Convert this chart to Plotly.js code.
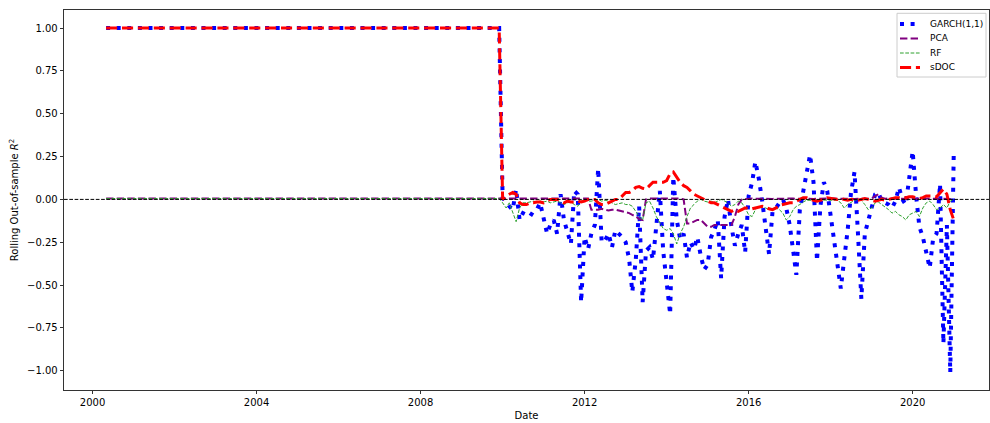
<!DOCTYPE html>
<html>
<head>
<meta charset="utf-8">
<script src="https://cdn.plot.ly/plotly-3.0.1.min.js"></script>
<style>html,body{margin:0;padding:0;background:#fff;}#chart{width:990px;height:423px;}</style>
</head>
<body>
<div id="chart"></div>
<script>
// Dates: constant segment (May 2000 .. Dec 2009) followed by monthly data from Jan 2010
const dates = ["2000-05-01","2009-12-01",
"2010-01","2010-02","2010-03","2010-04","2010-05","2010-06","2010-07","2010-08","2010-09","2010-10","2010-11","2010-12",
"2011-01","2011-02","2011-03","2011-04","2011-05","2011-06","2011-07","2011-08","2011-09","2011-10","2011-11","2011-12",
"2012-01","2012-02","2012-03","2012-04","2012-05","2012-06","2012-07","2012-08","2012-09","2012-10","2012-11","2012-12",
"2013-01","2013-02","2013-03","2013-04","2013-05","2013-06","2013-07","2013-08","2013-09","2013-10","2013-11","2013-12",
"2014-01","2014-02","2014-03","2014-04","2014-05","2014-06","2014-07","2014-08","2014-09","2014-10","2014-11","2014-12",
"2015-01","2015-02","2015-03","2015-04","2015-05","2015-06","2015-07","2015-08","2015-09","2015-10","2015-11","2015-12",
"2016-01","2016-02","2016-03","2016-04","2016-05","2016-06","2016-07","2016-08","2016-09","2016-10","2016-11","2016-12",
"2017-01","2017-02","2017-03","2017-04","2017-05","2017-06","2017-07","2017-08","2017-09","2017-10","2017-11","2017-12",
"2018-01","2018-02","2018-03","2018-04","2018-05","2018-06","2018-07","2018-08","2018-09","2018-10","2018-11","2018-12",
"2019-01","2019-02","2019-03","2019-04","2019-05","2019-06","2019-07","2019-08","2019-09","2019-10","2019-11","2019-12",
"2020-01","2020-02","2020-03","2020-04","2020-05","2020-06","2020-07","2020-08","2020-09","2020-10","2020-11","2020-12",
"2021-01"];

const garch = [1.0, 1.0,
 0.01,-0.02,-0.04,-0.06,0.06,-0.12,-0.08,-0.09,-0.10,-0.07,-0.06,-0.02,
 -0.10,-0.20,-0.15,-0.12,-0.20,0.03,-0.12,-0.20,-0.26,0.05,0.03,-0.60,
 -0.22,-0.29,-0.20,-0.15,0.18,-0.25,-0.24,-0.20,-0.28,-0.18,-0.20,-0.22,
 -0.25,-0.35,-0.54,-0.35,-0.04,-0.60,-0.30,-0.28,-0.35,-0.12,0.05,-0.30,
 -0.50,-0.67,0.13,-0.12,-0.23,-0.20,-0.34,-0.25,-0.29,-0.22,-0.33,-0.41,
 -0.38,-0.22,-0.18,-0.12,-0.46,-0.10,0.00,-0.16,-0.27,-0.20,-0.15,-0.31,
 0.02,0.10,0.22,0.12,-0.01,-0.15,-0.32,-0.07,-0.05,-0.02,0.00,-0.05,
 -0.15,-0.30,-0.44,-0.06,0.05,0.14,0.26,0.10,-0.36,-0.04,0.10,0.05,
 -0.10,-0.25,-0.40,-0.52,-0.35,-0.18,0.04,0.16,-0.20,-0.58,-0.20,-0.12,
 -0.06,0.03,0.04,-0.01,-0.02,-0.03,-0.05,-0.01,0.07,0.00,-0.03,0.13,
 0.28,0.02,-0.16,-0.22,-0.30,-0.40,-0.23,-0.20,0.09,-0.84,-0.15,-1.01,
 0.27];

const pca = [0.005, 0.005,
 0.005,0.004,0.005,0.005,0.004,0.005,0.005,0.004,0.005,0.005,0.004,0.005,
 0.005,0.004,0.005,0.005,0.004,0.005,0.005,0.004,0.005,0.005,0.004,0.005,
 0.004,0.005,-0.06,-0.06,-0.06,-0.055,-0.06,-0.065,-0.06,-0.06,-0.065,-0.07,
 -0.075,-0.08,-0.09,-0.10,-0.115,-0.12,0.00,0.005,0.005,0.005,0.005,0.005,
 0.005,0.005,0.005,0.005,0.005,0.00,-0.14,-0.14,-0.13,-0.12,-0.12,-0.14,
 -0.16,-0.16,-0.15,-0.15,-0.15,-0.15,-0.15,-0.15,-0.10,-0.03,0.00,0.003,
 0.004,0.005,0.004,0.003,0.004,0.005,0.004,0.003,0.004,0.005,0.004,0.003,
 0.004,0.005,0.004,0.003,0.004,0.005,0.004,0.003,0.004,0.005,0.004,0.003,
 0.004,0.005,0.004,0.003,0.004,0.005,0.004,0.003,0.004,0.005,0.004,0.003,
 0.004,0.02,0.03,0.01,0.004,0.005,0.004,0.003,0.004,0.005,0.004,0.003,
 0.004,0.005,0.004,0.003,0.004,0.005,0.004,0.003,0.004,0.005,0.004,0.003,
 0.003];

const rf = [0.005, 0.005,
 -0.02,-0.05,-0.02,-0.08,-0.13,-0.05,-0.02,-0.02,-0.015,-0.01,-0.015,-0.01,
 -0.015,-0.01,-0.02,-0.015,-0.01,-0.02,-0.03,-0.02,-0.015,-0.03,-0.04,-0.01,
 0.00,-0.01,-0.01,-0.005,0.00,-0.01,-0.005,-0.01,-0.02,-0.03,-0.025,-0.02,
 -0.03,-0.03,-0.04,-0.07,-0.10,-0.12,-0.02,-0.01,-0.05,-0.10,-0.14,-0.17,
 -0.18,-0.17,-0.20,-0.26,-0.20,-0.16,-0.10,-0.05,-0.03,-0.01,0.00,-0.01,
 -0.015,-0.01,-0.02,-0.01,0.00,-0.01,-0.02,-0.04,-0.03,-0.01,-0.02,-0.05,
 -0.09,-0.10,-0.06,-0.04,-0.045,-0.05,-0.06,-0.06,-0.05,-0.06,-0.08,-0.12,
 -0.10,-0.06,-0.04,-0.03,-0.015,-0.005,-0.005,-0.003,-0.005,-0.004,-0.005,-0.003,
 -0.005,-0.004,-0.005,-0.02,-0.05,-0.03,-0.02,-0.005,0.00,-0.005,-0.03,-0.06,
 -0.05,-0.02,-0.015,-0.03,-0.04,-0.06,-0.08,-0.07,-0.09,-0.10,-0.12,-0.09,
 -0.08,-0.07,-0.10,-0.05,-0.02,-0.01,-0.03,-0.06,-0.05,-0.03,-0.05,-0.01,
 0.00];

const sdoc = [1.0, 1.0,
 0.00,0.02,0.03,0.04,0.03,-0.02,-0.03,-0.03,-0.02,-0.02,-0.015,-0.015,
 -0.02,-0.01,0.00,0.00,0.00,-0.01,-0.02,-0.01,-0.015,-0.015,-0.01,-0.015,
 -0.01,0.00,0.00,0.00,-0.02,-0.03,-0.03,-0.02,-0.01,0.00,0.00,0.02,
 0.04,0.04,0.05,0.07,0.075,0.065,0.06,0.08,0.10,0.10,0.10,0.10,
 0.11,0.15,0.16,0.13,0.10,0.08,0.07,0.05,0.03,0.02,0.01,0.00,
 -0.01,-0.02,-0.02,-0.03,-0.04,-0.05,-0.06,-0.07,-0.06,-0.07,-0.06,-0.05,
 -0.05,-0.055,-0.05,-0.045,-0.04,-0.045,-0.055,-0.06,-0.05,-0.035,-0.03,-0.025,
 -0.02,-0.02,-0.01,0.00,0.01,0.01,0.00,-0.005,-0.01,-0.005,0.00,0.01,
 0.005,0.00,0.00,0.005,0.00,-0.005,0.00,0.00,-0.005,0.00,0.005,0.00,
 -0.005,-0.01,-0.005,0.00,-0.005,0.00,0.005,0.01,0.01,0.005,0.01,0.015,
 0.015,0.01,0.005,0.01,0.02,0.02,0.02,0.015,0.04,0.06,0.03,-0.06,
 -0.12];

const seriesNames = ["GARCH(1,1)", "PCA", "RF", "sDOC"];
const xTickVals = ["2000-01-01","2004-01-01","2008-01-01","2012-01-01","2016-01-01","2020-01-01"];
const xTickText = ["2000","2004","2008","2012","2016","2020"];
const yTickVals = [1.0,0.75,0.5,0.25,0,-0.25,-0.5,-0.75,-1.0];
const yTickText = ["1.00","0.75","0.50","0.25","0.00","\u22120.25","\u22120.50","\u22120.75","\u22121.00"];

const FONT = "DejaVu Sans, Liberation Sans, sans-serif";
const lineStyles = [
  {color: "#0000ff", width: 4, dash: "4px,6.6px"},
  {color: "#800080", width: 2, dash: "7.4px,3.2px"},
  {color: "#2ca02c", width: 1, dash: "3.7px,1.6px"},
  {color: "#ff0000", width: 3, dash: "11.1px,4.8px"}
];
const seriesData = [garch, pca, rf, sdoc];

const traces = seriesData.map((ys, i) => ({
  x: dates, y: ys, name: seriesNames[i], mode: "lines",
  line: lineStyles[i], hoverinfo: "skip", showlegend: false
}));

// Plot area in pixels (for placing the matplotlib-style legend box)
const W = 990, H = 423, ML = 64, MR = 1, MT = 10, MB = 33;
const PW = W - ML - MR, PH = H - MT - MB;
const px = v => (v - ML) / PW;
const py = v => (H - MB - v) / PH;

const shapes = [{type: "line", xref: "paper", x0: 0, x1: 1, yref: "y", y0: 0, y1: 0,
                 line: {color: "#000", width: 1, dash: "3.7px,1.6px"}, layer: "above"}];
const annotations = [];
// legend frame
shapes.push({type: "rect", xref: "paper", yref: "paper",
  x0: px(897), x1: px(986), y0: py(77), y1: py(13.3),
  line: {color: "#cccccc", width: 1}, fillcolor: "rgba(255,255,255,0.8)", layer: "above"});
const rowY = [24, 38.5, 53, 67.5];
seriesNames.forEach((nm, i) => {
  shapes.push({type: "line", xref: "paper", yref: "paper",
    x0: px(900), x1: px(920), y0: py(rowY[i]), y1: py(rowY[i]),
    line: lineStyles[i], layer: "above"});
  annotations.push({xref: "paper", yref: "paper", x: px(928), y: py(rowY[i]),
    xanchor: "left", yanchor: "middle", showarrow: false, text: nm,
    font: {family: FONT, size: 9, color: "#000"}});
});

const axisCommon = {
  showgrid: false, zeroline: false, showline: true, linecolor: "#000", linewidth: 0.8,
  mirror: true, ticks: "outside", ticklen: 3.5, tickwidth: 0.8, tickcolor: "#000",
  tickfont: {family: FONT, size: 10, color: "#000"}
};

const layout = {
  width: W, height: H,
  margin: {l: ML, r: MR, t: MT, b: MB, pad: 0},
  paper_bgcolor: "#fff", plot_bgcolor: "#fff",
  font: {family: FONT, size: 10, color: "#000"},
  showlegend: false,
  xaxis: Object.assign({}, axisCommon, {
    type: "date", range: ["1999-04-22", "2021-11-11"],
    tickmode: "array", tickvals: xTickVals, ticktext: xTickText,
    title: {text: "Date", font: {family: FONT, size: 10, color: "#000"}, standoff: 4}
  }),
  yaxis: Object.assign({}, axisCommon, {
    range: [-1.112, 1.105],
    tickmode: "array", tickvals: yTickVals, ticktext: yTickText,
    title: {text: "Rolling Out-of-sample <i>R</i><sup>2</sup>", font: {family: FONT, size: 10, color: "#000"}, standoff: 6}
  }),
  shapes: shapes,
  annotations: annotations
};

Plotly.newPlot("chart", traces, layout, {displayModeBar: false, staticPlot: true});
</script>
</body>
</html>
